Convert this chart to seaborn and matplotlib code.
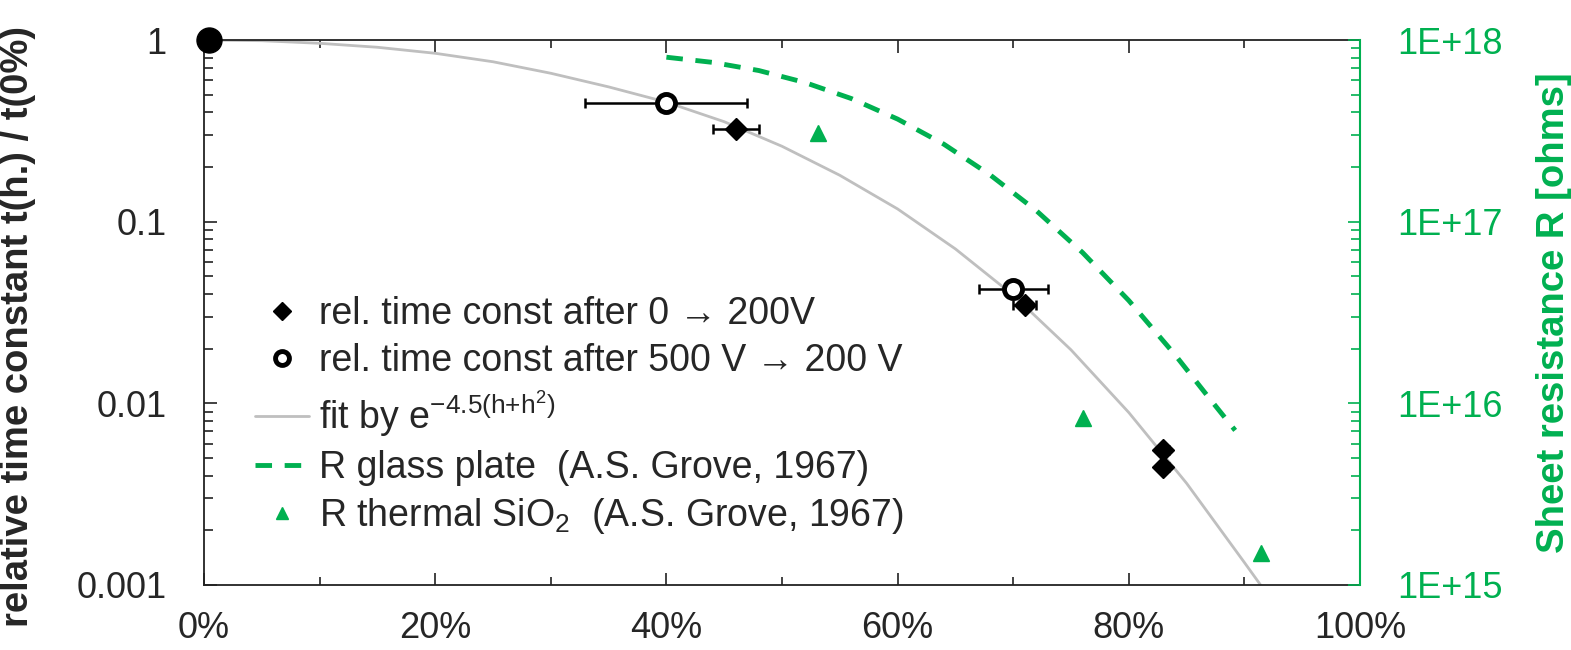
#importing necessary libraries
import numpy as np
import matplotlib.pyplot as plt
import matplotlib.ticker as mticker
from matplotlib.lines import Line2D
import seaborn as sns

#data (h in %)
fit_h = [0, 5, 10, 15, 20, 25, 30, 35, 40, 45, 50, 55, 60, 65, 70, 75, 80, 85, 90, 91.4]
fit_t = [1, 0.991, 0.959, 0.912, 0.845, 0.759, 0.656, 0.552, 0.455, 0.355, 0.260, 0.180,
         0.1175, 0.0708, 0.0394, 0.0197, 0.0089, 0.00363, 0.00133, 0.001]

diam_h = [46, 71, 83, 83]
diam_t = [0.322, 0.0348, 0.00553, 0.00448]
diam_err = [2, 1, 0.5, 0.5]

circ_h = [40, 70]
circ_t = [0.448, 0.0425]
circ_err = [7, 3]

ref_h = [0.4]
ref_t = [1]

glass_h = [40, 44, 48, 52, 56, 60, 64, 68, 72, 76, 80, 84, 87, 89.2]
glass_R = [8.04e17, 7.53e17, 6.79e17, 5.83e17, 4.76e17, 3.67e17, 2.67e17, 1.81e17,
           1.15e17, 6.76e16, 3.68e16, 1.85e16, 1.06e16, 7.1e15]

sio2_h = [53.1, 76.05, 91.4]
sio2_R = [3.07e17, 8.3e15, 1.5e15]

left_ticks = [0.001, 0.01, 0.1, 1]
left_labels = ["0.001", "0.01", "0.1", "1"]
right_ticks = [1e15, 1e16, 1e17, 1e18]
right_labels = ["1E+15", "1E+16", "1E+17", "1E+18"]
x_ticks = [0, 20, 40, 60, 80, 100]
x_labels = ["0%", "20%", "40%", "60%", "80%", "100%"]

lab_diam = "rel. time const after 0 \u2192 200V"
lab_circ = "rel. time const after 500 V \u2192 200 V"
lab_fit = r"fit by e$^{\mathregular{-4.5(h{+}h^2)}}$"
lab_glass = "R glass plate  (A.S. Grove, 1967)"
lab_sio2 = r"R thermal SiO$_2$  (A.S. Grove, 1967)"

green = "#00B050"
gray = "#BFBFBF"
fs = 26

sns.set_style("ticks")
plt.rcParams['font.family'] = ['Liberation Sans', 'DejaVu Sans']
plt.rcParams['mathtext.fontset'] = 'custom'
plt.rcParams['mathtext.rm'] = 'Liberation Sans'
plt.rcParams['mathtext.it'] = 'Liberation Sans:italic'

fig = plt.figure(figsize=(15.71, 6.5), dpi=100)
ax = fig.add_axes([204 / 1571, 65 / 650, 1156 / 1571, 545 / 650])
ax2 = ax.twinx()

#fit curve
sns.lineplot(x=fit_h, y=fit_t, ax=ax, color=gray, lw=2, sort=False, legend=False, zorder=2)

#measured time constants
ax.errorbar(diam_h, diam_t, xerr=diam_err, fmt="none", ecolor="black", elinewidth=1.8,
            capsize=3.5, capthick=1.8, zorder=3)
ax.errorbar(circ_h, circ_t, xerr=circ_err, fmt="none", ecolor="black", elinewidth=1.8,
            capsize=3.5, capthick=1.8, zorder=3)
ax.plot(diam_h, diam_t, ls="none", marker="D", ms=11, color="black", zorder=4)
ax.plot(circ_h, circ_t, ls="none", marker="o", ms=13, mfc="white", mec="black", mew=3.5, zorder=4)
ax.plot(ref_h, ref_t, ls="none", marker="o", ms=18, color="black", zorder=5, clip_on=False)

#sheet resistance on the right axis
sns.lineplot(x=glass_h, y=glass_R, ax=ax2, color=green, lw=3.5, sort=False, legend=False)
ax2.lines[-1].set_dashes([3.4, 2.6])
ax2.plot(sio2_h, sio2_R, ls="none", marker="^", ms=12, color=green)

#axes setup
ax.set_yscale("log")
ax.set_ylim(0.001, 1)
ax.set_xlim(0, 100)
ax.yaxis.set_major_locator(mticker.FixedLocator(left_ticks))
ax.yaxis.set_major_formatter(mticker.FixedFormatter(left_labels))
ax.yaxis.set_minor_locator(mticker.LogLocator(base=10, subs=np.arange(2, 10)))
ax.yaxis.set_minor_formatter(mticker.NullFormatter())
ax.set_xticks(x_ticks)
ax.set_xticklabels(x_labels)
ax.xaxis.set_minor_locator(mticker.MultipleLocator(10))
ax.tick_params(axis="both", which="both", direction="in", labelsize=fs, top=True, right=False,
               color="#222222")
ax.tick_params(axis="x", which="major", length=9, width=1.2, pad=19)
ax.tick_params(axis="x", which="minor", length=6, width=1.2)
ax.tick_params(axis="y", which="major", length=9, width=1.2, pad=27)
ax.tick_params(axis="y", which="minor", length=6.5, width=1.2)
ax.set_ylabel("relative time constant t(h.) / t(0%)", fontsize=27.5, fontweight="bold")
ax.yaxis.set_label_coords(-0.145, 0.475)
for s in ax.spines.values():
    s.set_linewidth(1.3)
    s.set_color("#222222")

ax2.set_yscale("log")
ax2.set_ylim(1e15, 1e18)
ax2.yaxis.set_major_locator(mticker.FixedLocator(right_ticks))
ax2.yaxis.set_major_formatter(mticker.FixedFormatter(right_labels))
ax2.yaxis.set_minor_locator(mticker.LogLocator(base=10, subs=np.arange(2, 10)))
ax2.yaxis.set_minor_formatter(mticker.NullFormatter())
ax2.tick_params(axis="y", which="both", direction="in", colors=green, labelsize=fs, pad=27)
ax2.tick_params(axis="y", which="major", length=9, width=1.2)
ax2.tick_params(axis="y", which="minor", length=6.5, width=1.2)
ax2.spines["right"].set_color(green)
ax2.spines["right"].set_linewidth(1.5)
for k in ["top", "left", "bottom"]:
    ax2.spines[k].set_visible(False)
ax2.set_ylabel("Sheet resistance R [ohms]", fontsize=27.5, fontweight="bold", color=green)
ax2.yaxis.set_label_coords(1.152, 0.5)

#legend with proxy handles (legend markers are a bit smaller than in the plot)
handles = [
    Line2D([], [], ls="none", marker="D", ms=9, color="black"),
    Line2D([], [], ls="none", marker="o", ms=10, mfc="white", mec="black", mew=3.5),
    Line2D([], [], color=gray, lw=2),
    Line2D([], [], color=green, lw=3.5, dashes=[3.4, 2.6]),
    Line2D([], [], ls="none", marker="^", ms=9, color=green),
]
labels = [lab_diam, lab_circ, lab_fit, lab_glass, lab_sio2]
leg = ax2.legend(handles, labels, loc="upper left", bbox_to_anchor=(0.044, 0.53),
                 frameon=False, fontsize=27, handlelength=1.45, handletextpad=0.25,
                 labelspacing=0.28, borderpad=0, borderaxespad=0)

fig.savefig("out.png", dpi=100)
